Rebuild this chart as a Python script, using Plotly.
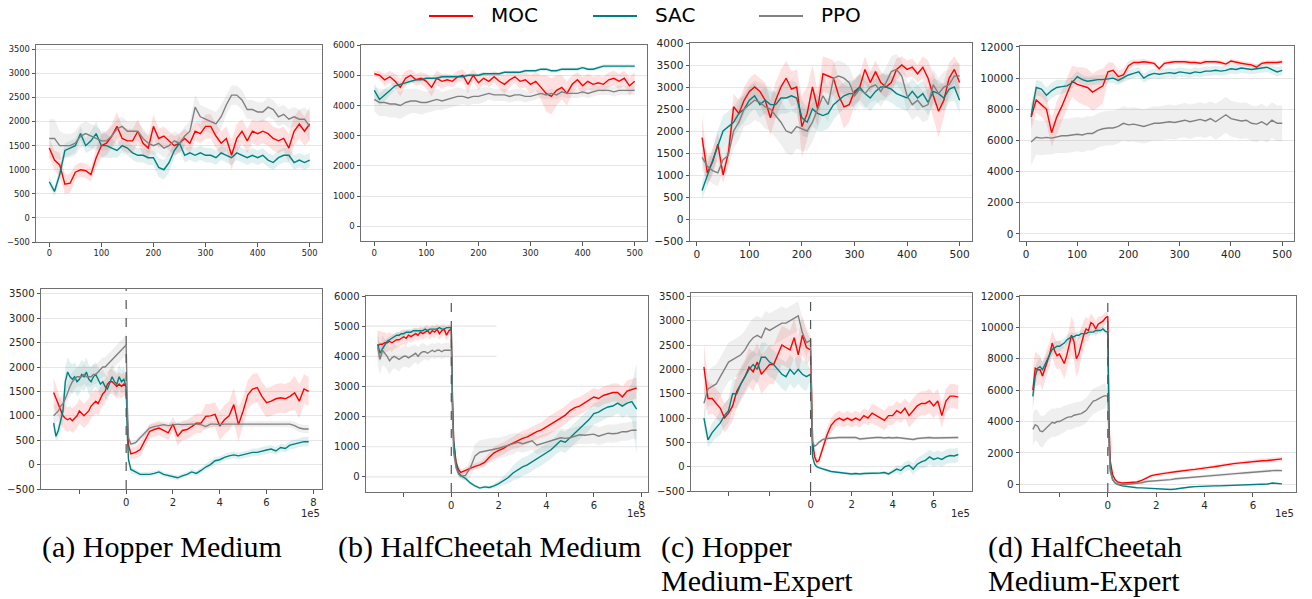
import plotly.graph_objects as go

W, H = 1312, 599


def px(v):
    return v / W


def py(v):
    return 1 - v / H


SERIES = ["MOC", "SAC", "PPO"]
COLORS = {"MOC": "#ff0000", "SAC": "#008080", "PPO": "#808080"}
FILLS = {"MOC": "rgba(255,0,0,0.12)", "SAC": "rgba(0,128,128,0.12)", "PPO": "rgba(128,128,128,0.13)"}

# ---------------- top row (online fine-tuning curves, x = epochs) ----------------
TOP_X_AB = list(range(0, 501, 10))
TOP_X_CD = list(range(10, 501, 10))

A_TOP_MOC = [1450, 1200, 1100, 700, 720, 950, 1000, 980, 900, 1250,
             1500, 1550, 1700, 1900, 1650, 1600, 1600, 1800, 1550, 1450,
             1900, 1650, 1700, 1600, 1500, 1550, 1650, 1550, 1800, 1750,
             1900, 1900, 1700, 1550, 1650, 1300, 1650, 1800, 1600, 1800,
             1750, 1800, 1750, 1650, 1600, 1650, 1450, 1800, 1950, 1800,
             1950]
A_TOP_MOC_SD = [200, 200, 250, 200, 200, 150, 150, 150, 150, 200,
                250, 250, 250, 300, 250, 250, 250, 250, 250, 250,
                250, 200, 200, 200, 200, 200, 200, 200, 200, 200,
                250, 250, 250, 250, 250, 300, 300, 250, 250, 250,
                250, 250, 250, 250, 250, 250, 300, 300, 300, 300,
                350]
A_TOP_SAC = [750, 550, 900, 1400, 1450, 1500, 1750, 1500, 1600, 1750,
             1500, 1500, 1450, 1400, 1500, 1450, 1350, 1300, 1300, 1250,
             1250, 1050, 1000, 1150, 1400, 1550, 1300, 1350, 1300, 1350,
             1300, 1300, 1250, 1350, 1300, 1250, 1350, 1300, 1250, 1300,
             1250, 1300, 1200, 1150, 1250, 1300, 1300, 1150, 1200, 1150,
             1200]
A_TOP_SAC_SD = [100, 100, 150, 150, 150, 150, 150, 150, 200, 250,
                250, 250, 200, 150, 150, 150, 150, 150, 150, 150,
                150, 200, 200, 200, 150, 150, 150, 150, 150, 150,
                150, 150, 150, 150, 150, 150, 150, 150, 150, 150,
                150, 150, 150, 150, 150, 150, 150, 150, 150, 150,
                150]
A_TOP_PPO = [1650, 1650, 1500, 1500, 1500, 1550, 1700, 1750, 1700, 1650,
             1600, 1600, 1700, 1850, 1900, 1800, 1800, 1800, 1650, 1550,
             1500, 1550, 1450, 1500, 1600, 1550, 1700, 1800, 2300, 2100,
             2050, 2000, 1950, 2100, 2350, 2550, 2550, 2450, 2250, 2250,
             2200, 2200, 2300, 2250, 2100, 2150, 2050, 2100, 2050, 2050,
             1900]
A_TOP_PPO_SD = [400, 400, 300, 250, 250, 250, 250, 250, 250, 250,
                200, 200, 200, 200, 200, 200, 200, 200, 200, 200,
                200, 200, 200, 200, 200, 200, 200, 200, 250, 250,
                250, 250, 250, 250, 200, 200, 200, 200, 200, 200,
                200, 200, 200, 200, 200, 200, 200, 200, 200, 250,
                300]

B_TOP_MOC = [5050, 5000, 4850, 4950, 4800, 4600, 4900, 5000, 4850, 4900,
             4800, 4600, 4900, 4800, 4850, 4800, 4950, 5000, 4700, 5000,
             4750, 4900, 4800, 4950, 4800, 4700, 4850, 4950, 4800, 4850,
             4700, 4800, 4600, 4400, 4300, 4500, 4600, 4400, 4700, 4850,
             4650, 4800, 4700, 4750, 4700, 4850, 4900, 4800, 4900, 4650,
             4800]
B_TOP_MOC_SD = [100, 150, 200, 200, 250, 300, 250, 200, 200, 200,
                250, 300, 250, 250, 200, 200, 200, 200, 300, 200,
                250, 200, 200, 200, 250, 300, 250, 200, 250, 250,
                300, 300, 400, 600, 600, 500, 400, 400, 300, 250,
                300, 250, 250, 250, 250, 250, 250, 250, 250, 300,
                300]
B_TOP_SAC = [4500, 4200, 4350, 4500, 4650, 4700, 4750, 4800, 4850, 4850,
             4900, 4900, 4900, 4950, 4950, 4950, 4950, 4950, 5000, 5000,
             5000, 5050, 5050, 5050, 5050, 5100, 5100, 5100, 5100, 5150,
             5150, 5150, 5200, 5200, 5150, 5150, 5200, 5200, 5200, 5200,
             5250, 5200, 5200, 5250, 5300, 5300, 5300, 5300, 5300, 5300,
             5300]
B_TOP_SAC_SD = [250, 200, 200, 150, 150, 100, 100, 80, 80, 80,
                60, 60, 60, 60, 60, 60, 60, 60, 60, 60,
                60, 60, 60, 60, 60, 60, 60, 60, 60, 60,
                60, 60, 60, 60, 60, 60, 60, 60, 60, 60,
                60, 60, 60, 60, 60, 60, 60, 60, 60, 60,
                60]
B_TOP_PPO = [4200, 4100, 4100, 4050, 4050, 4000, 4100, 4150, 4150, 4100,
             4100, 4150, 4200, 4150, 4200, 4250, 4300, 4300, 4250, 4300,
             4300, 4350, 4400, 4350, 4350, 4350, 4300, 4350, 4350, 4300,
             4300, 4350, 4400, 4350, 4400, 4350, 4450, 4400, 4400, 4400,
             4450, 4400, 4450, 4500, 4500, 4500, 4450, 4500, 4500, 4500,
             4500]
B_TOP_PPO_SD = [400, 450, 450, 450, 450, 450, 450, 400, 400, 400,
                350, 350, 350, 300, 300, 300, 300, 250, 250, 250,
                250, 250, 200, 200, 200, 200, 200, 200, 200, 200,
                150, 150, 150, 150, 150, 150, 150, 150, 150, 150,
                150, 150, 150, 150, 150, 150, 150, 150, 150, 150,
                150]

C_TOP_MOC = [1850, 1050, 1300, 1700, 1000, 1500, 2550, 2400, 2700, 2900,
             3000, 2900, 2700, 2300, 2700, 3000, 3200, 2950, 3000, 2100,
             2400, 3000, 2500, 3300, 3250, 3200, 2800, 2550, 2600, 2900,
             3000, 3400, 3100, 3350, 3100, 3000, 3100, 3400, 3500, 3400,
             3450, 3300, 3450, 3200, 2800, 2450, 2700, 3200, 3400, 3100]
C_TOP_MOC_SD = [500, 300, 300, 300, 200, 250, 300, 300, 300, 300,
                300, 300, 400, 400, 400, 400, 400, 400, 400, 700,
                600, 500, 400, 400, 400, 400, 400, 500, 400, 300,
                300, 300, 250, 250, 250, 250, 250, 250, 200, 200,
                200, 200, 250, 400, 500, 600, 400, 350, 300, 400]
C_TOP_SAC = [650, 1000, 1300, 1700, 2000, 2100, 2200, 2400, 2500, 2700,
             2800, 2600, 2700, 2600, 2600, 2750, 2750, 2800, 2750, 2300,
             2200, 2500, 2400, 2350, 2400, 2600, 2700, 2800, 2850, 2850,
             3000, 2850, 2750, 2900, 3000, 3000, 2950, 2850, 2800, 2750,
             2900, 2750, 2850, 2650, 2900, 2850, 2750, 2950, 3000, 2700]
C_TOP_SAC_SD = [200, 250, 250, 300, 350, 350, 350, 350, 300, 300,
                300, 300, 300, 300, 300, 350, 350, 350, 350, 400,
                350, 400, 400, 350, 350, 350, 300, 300, 300, 300,
                300, 300, 300, 300, 300, 300, 300, 300, 300, 300,
                300, 300, 300, 300, 300, 300, 300, 300, 300, 300]
C_TOP_PPO = [1400, 1200, 1100, 1050, 1350, 1450, 2000, 2200, 2500, 2600,
             2700, 2650, 2550, 2500, 2350, 2200, 2000, 1950, 2100, 2050,
             2000, 2200, 2500, 2800, 2600, 3200, 3250, 3200, 3100, 2800,
             2950, 2850, 3000, 3050, 2900, 3100, 3350, 3400, 3250, 2800,
             2600, 2700, 2550, 2600, 3050, 2850, 3000, 3050, 3250, 3250]
C_TOP_PPO_SD = [300, 300, 300, 300, 300, 300, 400, 400, 400, 450,
                450, 450, 500, 500, 500, 500, 500, 500, 500, 500,
                450, 450, 450, 400, 400, 350, 350, 350, 350, 350,
                350, 350, 350, 350, 350, 350, 350, 350, 350, 350,
                350, 350, 350, 350, 350, 350, 350, 350, 300, 300]

D_TOP_MOC = [7500, 8600, 8300, 8000, 6500, 7500, 8200, 9000, 9800, 9600,
             9500, 9400, 9100, 9300, 9500, 10400, 10500, 10100, 10200, 10800,
             11000, 11000, 11050, 11000, 10950, 10600, 10950, 11000, 11050, 11050,
             11050, 11000, 11000, 10950, 11050, 11050, 11050, 11000, 10900, 11100,
             11000, 10950, 10900, 10850, 10700, 10950, 11000, 11000, 11000, 11050]
D_TOP_MOC_SD = [800, 800, 800, 900, 900, 1000, 1000, 1000, 1000, 1100,
                1200, 1200, 1200, 1200, 1100, 600, 500, 400, 400, 300,
                200, 200, 200, 150, 150, 150, 150, 150, 150, 150,
                150, 150, 150, 150, 150, 150, 150, 150, 150, 150,
                150, 150, 150, 150, 150, 150, 150, 150, 150, 150]
D_TOP_SAC = [7600, 9400, 9300, 8900, 9200, 9400, 9450, 9500, 9700, 10100,
             9900, 9800, 9850, 9900, 9900, 9950, 10000, 9850, 10050, 10200,
             10300, 10400, 10000, 10200, 10300, 10250, 10300, 10350, 10300, 10400,
             10350, 10300, 10400, 10350, 10450, 10450, 10500, 10450, 10500, 10600,
             10550, 10650, 10600, 10550, 10600, 10650, 10700, 10550, 10400, 10500]
D_TOP_SAC_SD = [600, 500, 500, 500, 500, 500, 450, 400, 400, 350,
                300, 300, 300, 300, 300, 300, 300, 300, 300, 300,
                300, 300, 300, 300, 300, 300, 300, 300, 300, 300,
                300, 300, 300, 300, 300, 300, 300, 300, 300, 300,
                300, 300, 300, 300, 300, 300, 300, 300, 300, 300]
D_TOP_PPO = [5900, 6200, 6150, 6200, 6150, 6250, 6300, 6300, 6350, 6400,
             6350, 6450, 6450, 6650, 6750, 6800, 6800, 6900, 7100, 7000,
             7050, 6950, 6900, 7000, 7100, 7100, 7150, 7200, 7150, 7250,
             7300, 7200, 7300, 7350, 7250, 7400, 7200, 7400, 7650, 7400,
             7300, 7250, 7300, 7100, 7050, 7200, 7000, 7300, 7100, 7100]
D_TOP_PPO_SD = [1500, 1100, 1100, 1100, 1050, 1050, 1100, 1100, 1100, 1100,
                1100, 1100, 1100, 1100, 1100, 1100, 1100, 1100, 1100, 1100,
                1100, 1100, 1100, 1100, 1100, 1100, 1100, 1100, 1100, 1100,
                1100, 1100, 1100, 1100, 1100, 1100, 1150, 1150, 1150, 1150,
                1150, 1150, 1150, 1150, 1150, 1150, 1150, 1150, 1150, 1150]

# ---------------- bottom row (offline phase x<0, online x>=0, units of 1e5 steps) --------
PRE_X_ABD = [round(-3.1 + 0.1 * i, 2) for i in range(31)]
PRE_X_C = [round(-5.2 + 0.2 * i, 2) for i in range(26)]
POST_X_AB = [0, 0.05, 0.1, 0.2, 0.3, 0.4] + [round(0.6 + 0.2 * i, 2) for i in range(37)]
POST_X_CD = [0, 0.05, 0.1, 0.2, 0.3, 0.4] + [round(0.6 + 0.2 * i, 2) for i in range(34)]

# (a) Hopper Medium
A_PRE_MOC = [1480, 1350, 1250, 1100, 1000, 950, 920, 950, 900, 950,
             1000, 1100, 1050, 1000, 1050, 1100, 1200, 1250, 1300, 1250,
             1370, 1450, 1500, 1650, 1700, 1700, 1650, 1600, 1650, 1600, 1650]
A_PRE_MOC_SD = [300, 280, 250, 250, 250, 250, 250, 250, 250, 250,
                250, 250, 250, 250, 250, 250, 250, 250, 250, 250,
                250, 250, 250, 250, 250, 250, 250, 250, 250, 250, 250]
A_PRE_SAC = [850, 580, 700, 900, 1100, 1700, 1900, 1800, 1750, 1800,
             1700, 1750, 1850, 1800, 1900, 1750, 1700, 1800, 1850, 1750,
             1650, 1700, 1600, 1550, 1700, 1800, 1700, 1650, 1800, 1700, 1750]
A_PRE_SAC_SD = [150, 100, 150, 200, 250, 300, 300, 300, 300, 300,
                300, 300, 300, 300, 300, 300, 300, 250, 250, 250,
                250, 250, 250, 250, 250, 250, 250, 250, 250, 250, 250]
A_PRE_PPO = [1000, 1050, 1100, 1200, 1250, 1350, 1500, 1600, 1700, 1750,
             1800, 1800, 1800, 1850, 1800, 1800, 1800, 1850, 1850, 1900,
             1950, 2000, 2000, 2050, 2100, 2150, 2200, 2250, 2300, 2350, 2400]
A_PRE_PPO_SD = [200, 200, 200, 200, 200, 200, 200, 200, 200, 200,
                200, 200, 200, 200, 200, 200, 200, 200, 200, 200,
                200, 200, 200, 200, 200, 200, 200, 200, 200, 200, 200]
A_POST_MOC = [1600, 900, 400, 220, 230, 250, 310, 500, 680, 720,
              750, 700, 650, 830, 580, 700, 720, 780, 850, 850,
              990, 1000, 1030, 790, 920, 1000, 1230, 820, 1100, 1430,
              1550, 1580, 1400, 1270, 1300, 1350, 1370, 1350, 1400, 1470,
              1300, 1550, 1500]
A_POST_MOC_SD = [200, 200, 150, 120, 120, 120, 150, 150, 150, 150,
                 150, 150, 150, 150, 200, 200, 200, 200, 200, 200,
                 250, 250, 250, 300, 300, 300, 350, 350, 300, 300,
                 300, 300, 300, 300, 300, 300, 300, 300, 300, 350,
                 350, 300, 300]
A_POST_SAC = [1600, 600, 100, -100, -130, -150, -200, -200, -200, -180,
              -150, -200, -220, -250, -270, -230, -200, -150, -180, -120,
              -50, 0, 80, 100, 150, 180, 200, 180, 200, 220,
              250, 250, 280, 300, 320, 280, 350, 330, 400, 420,
              450, 470, 470]
A_POST_SAC_SD = [250, 200, 100, 80, 60, 60, 50, 50, 50, 50,
                 50, 50, 50, 50, 50, 50, 50, 60, 60, 60,
                 60, 70, 70, 70, 70, 70, 70, 70, 70, 70,
                 80, 80, 80, 80, 80, 80, 80, 80, 90, 90,
                 90, 100, 100]
A_POST_PPO = [2450, 1200, 550, 420, 430, 450, 550, 650, 750, 780,
              800, 820, 800, 820, 830, 820, 830, 830, 830, 820,
              780, 830, 830, 820, 830, 830, 830, 830, 830, 830,
              830, 830, 830, 830, 830, 830, 830, 830, 830, 800,
              750, 730, 730]
A_POST_PPO_SD = [250, 200, 80, 60, 60, 60, 60, 60, 60, 60,
                 60, 60, 60, 60, 60, 60, 60, 60, 60, 60,
                 60, 60, 60, 60, 60, 60, 60, 60, 60, 60,
                 60, 60, 60, 60, 60, 60, 60, 60, 70, 80,
                 80, 80, 80]

# (b) HalfCheetah Medium
B_PRE_MOC = [4350, 4400, 4400, 4450, 4450, 4500, 4450, 4500, 4550, 4550,
             4600, 4650, 4600, 4700, 4650, 4700, 4750, 4700, 4800, 4750,
             4800, 4850, 4750, 4850, 4800, 4900, 4750, 4850, 4900, 4700, 4850]
B_PRE_MOC_SD = [500, 450, 400, 350, 300, 300, 300, 250, 250, 250,
                250, 250, 250, 200, 200, 200, 200, 200, 200, 200,
                200, 200, 200, 200, 200, 200, 200, 200, 200, 200, 200]
B_PRE_SAC = [4400, 4100, 4250, 4400, 4500, 4550, 4600, 4650, 4700, 4700,
             4750, 4750, 4800, 4800, 4800, 4850, 4850, 4850, 4850, 4850,
             4900, 4850, 4900, 4900, 4900, 4900, 4950, 4900, 4900, 4950, 4950]
B_PRE_SAC_SD = [300, 300, 200, 150, 100, 100, 100, 100, 100, 100,
                100, 100, 100, 100, 100, 100, 100, 100, 100, 100,
                100, 100, 100, 100, 100, 100, 100, 100, 100, 100, 100]
B_PRE_PPO = [4300, 3900, 4200, 4100, 4000, 3850, 3950, 4000, 3950, 3900,
             3950, 4000, 4000, 3950, 4000, 4050, 4100, 4000, 4100, 4150,
             4150, 4100, 4150, 4200, 4150, 4200, 4200, 4150, 4200, 4200, 4200]
B_PRE_PPO_SD = [600, 500, 500, 450, 450, 450, 400, 400, 400, 400,
                350, 350, 350, 350, 350, 300, 300, 300, 300, 300,
                250, 250, 250, 250, 250, 250, 250, 250, 250, 250, 250]
B_POST_MOC = [4900, 2600, 1200, 500, 250, 150, 220, 300, 350, 400,
              480, 650, 800, 880, 950, 1050, 1130, 1200, 1280, 1330,
              1420, 1500, 1560, 1650, 1750, 1850, 1950, 2050, 2200, 2300,
              2350, 2450, 2550, 2650, 2600, 2700, 2750, 2800, 2800, 2650,
              2850, 2900, 2950]
B_POST_MOC_SD = [100, 100, 100, 100, 100, 100, 100, 100, 100, 100,
                 150, 150, 200, 200, 200, 200, 200, 250, 250, 250,
                 250, 250, 250, 300, 300, 300, 300, 300, 300, 300,
                 300, 300, 300, 300, 300, 300, 300, 300, 300, 350,
                 350, 350, 350]
B_POST_SAC = [4950, 2500, 1200, 400, 150, 50, -50, -200, -300, -370,
              -330, -350, -300, -220, -130, -20, 130, 230, 330, 400,
              500, 600, 680, 780, 900, 1050, 1200, 1150, 1300, 1450,
              1600, 1750, 1900, 2100, 2150, 2250, 2320, 2350, 2450, 2350,
              2450, 2500, 2250]
B_POST_SAC_SD = [100, 100, 100, 100, 100, 100, 80, 60, 50, 50,
                 50, 60, 80, 100, 150, 200, 250, 300, 300, 300,
                 300, 300, 300, 300, 300, 300, 350, 350, 350, 350,
                 350, 350, 350, 350, 350, 350, 350, 350, 350, 400,
                 400, 600, 1500]
B_POST_PPO = [4200, 2000, 800, 300, 100, 20, 50, 300, 700, 820,
              850, 870, 900, 950, 1000, 1050, 1100, 1150, 1100, 1150,
              1200, 1050, 1100, 1150, 1200, 1250, 1300, 1280, 1300, 1350,
              1400, 1380, 1400, 1420, 1350, 1400, 1450, 1430, 1450, 1500,
              1500, 1550, 1550]
B_POST_PPO_SD = [100, 100, 100, 100, 100, 100, 150, 300, 400, 400,
                 400, 400, 400, 350, 350, 350, 350, 300, 300, 300,
                 300, 300, 300, 300, 300, 300, 300, 300, 300, 300,
                 300, 300, 300, 300, 300, 300, 300, 300, 300, 300,
                 300, 300, 300]

# (c) Hopper Medium-Expert
C_PRE_MOC = [2050, 1400, 1400, 1300, 1200, 1000, 1100, 1250, 1550, 1700,
             1850, 2050, 1950, 2150, 1900, 2000, 2100, 2100, 2300, 2500,
             2450, 2400, 2650, 2300, 2700, 2450]
C_PRE_MOC_SD = [500, 350, 300, 300, 300, 300, 300, 300, 350, 350,
                350, 400, 400, 400, 400, 400, 400, 400, 400, 400,
                400, 400, 400, 400, 400, 350]
C_PRE_SAC = [1000, 550, 700, 800, 900, 1050, 1150, 1500, 1500, 1700,
             1850, 2000, 2100, 2000, 2250, 2250, 2150, 2100, 2000, 1900,
             1850, 2000, 1900, 2000, 1900, 1850]
C_PRE_SAC_SD = [200, 150, 200, 200, 250, 250, 250, 300, 300, 300,
                300, 300, 300, 300, 300, 300, 300, 300, 300, 300,
                300, 300, 300, 300, 300, 300]
C_PRE_PPO = [1300, 1600, 1650, 1700, 1850, 2000, 2150, 2200, 2250, 2300,
             2400, 2550, 2650, 2700, 2650, 2850, 2800, 2850, 2900, 2950,
             2950, 3000, 3050, 3100, 2750, 2550]
C_PRE_PPO_SD = [300, 350, 400, 400, 400, 400, 400, 400, 400, 400,
                400, 400, 400, 400, 400, 350, 350, 350, 350, 350,
                300, 300, 300, 300, 300, 300]
C_POST_MOC = [2400, 1200, 500, 200, 100, 120, 400, 650, 850, 950,
              1000, 950, 1000, 950, 1000, 950, 1050, 1000, 1100, 1050,
              1000, 950, 1050, 1050, 1150, 1100, 1200, 1050, 1150, 1250,
              1300, 1300, 1350, 1250, 1350, 1050, 1350, 1450, 1450, 1430]
C_POST_MOC_SD = [200, 150, 100, 100, 80, 80, 100, 150, 150, 150,
                 150, 150, 150, 150, 150, 150, 150, 150, 200, 200,
                 200, 200, 200, 200, 200, 200, 200, 250, 250, 250,
                 250, 250, 250, 250, 250, 250, 250, 250, 250, 250]
C_POST_SAC = [1900, 700, 200, 50, 0, -20, -50, -80, -100, -110,
              -120, -130, -140, -150, -140, -150, -140, -140, -130, -140,
              -130, -120, -150, -100, -50, -80, 0, 30, -50, 50,
              100, 130, 200, 150, 180, 150, 200, 230, 220, 250]
C_POST_SAC_SD = [100, 100, 60, 40, 30, 30, 30, 30, 30, 30,
                 30, 30, 30, 30, 30, 30, 30, 30, 30, 30,
                 30, 30, 40, 50, 80, 100, 100, 100, 120, 130,
                 130, 150, 150, 150, 150, 150, 150, 150, 150, 150]
C_POST_PPO = [2600, 1200, 500, 420, 450, 500, 560, 580, 590, 600,
              600, 600, 600, 590, 600, 570, 580, 590, 600, 600,
              600, 590, 600, 590, 600, 590, 590, 580, 560, 580,
              590, 590, 600, 590, 590, 600, 590, 600, 600, 600]
C_POST_PPO_SD = [100, 100, 50, 40, 30, 30, 30, 30, 30, 30,
                 30, 30, 30, 30, 30, 30, 30, 30, 30, 30,
                 30, 30, 30, 30, 30, 30, 30, 30, 30, 30,
                 30, 30, 30, 30, 30, 30, 30, 30, 30, 30]

# (d) HalfCheetah Medium-Expert
D_PRE_MOC = [6000, 7400, 7300, 7300, 6900, 7400, 7900, 8300, 9000, 8500,
             8200, 8300, 8000, 7700, 8200, 8900, 9500, 9100, 8000, 8300,
             9000, 9500, 9900, 9800, 10300, 10200, 9900, 10200, 10300, 10400, 10600]
D_PRE_MOC_SD = [1300, 1100, 1000, 900, 900, 900, 800, 800, 800, 900,
                900, 900, 900, 1000, 1000, 1100, 1200, 1200, 1200, 1100,
                1000, 900, 800, 700, 600, 500, 500, 500, 400, 400, 400]
D_PRE_SAC = [5600, 6900, 7400, 7500, 7300, 7600, 8000, 8300, 8600, 8700,
             8800, 8800, 8900, 9000, 9200, 9300, 9400, 9400, 9500, 9500,
             9600, 9600, 9600, 9700, 9700, 9700, 9800, 9800, 9800, 9900, 9750]
D_PRE_SAC_SD = [700, 600, 500, 500, 500, 450, 400, 400, 400, 400,
                350, 350, 300, 300, 300, 300, 300, 250, 250, 250,
                250, 250, 250, 250, 200, 200, 200, 200, 200, 200, 200]
D_PRE_PPO = [3500, 3800, 3700, 3400, 3350, 3500, 3700, 3800, 3950, 3900,
             4000, 4000, 4100, 4150, 4250, 4300, 4300, 4400, 4450, 4450,
             4500, 4600, 4700, 4900, 5100, 5300, 5350, 5450, 5500, 5600, 5650]
D_PRE_PPO_SD = [1000, 1000, 1000, 1000, 1000, 900, 900, 900, 900, 900,
                900, 850, 850, 850, 800, 800, 800, 800, 800, 800,
                800, 800, 800, 800, 800, 800, 800, 800, 800, 800, 800]
D_POST_MOC = [10700, 4000, 1500, 600, 300, 150, 80, 100, 120, 150,
              250, 400, 550, 620, 680, 720, 760, 800, 850, 880,
              920, 950, 980, 1020, 1080, 1120, 1180, 1230, 1280, 1320,
              1350, 1380, 1430, 1480, 1490, 1500, 1520, 1550, 1580, 1620]
D_POST_MOC_SD = [300, 200, 100, 80, 80, 80, 80, 80, 80, 80,
                 80, 100, 100, 100, 100, 100, 100, 100, 100, 100,
                 100, 120, 120, 120, 120, 120, 120, 120, 120, 120,
                 120, 120, 120, 120, 140, 140, 140, 150, 150, 150]
D_POST_SAC = [9700, 3000, 1000, 300, 100, 0, -100, -150, -200, -220,
              -230, -250, -260, -280, -300, -320, -330, -300, -250, -200,
              -170, -150, -130, -120, -110, -100, -100, -90, -80, -60,
              -50, -30, -20, -10, 0, 0, 20, 80, 60, 30]
D_POST_SAC_SD = [200, 100, 60, 50, 50, 50, 50, 50, 50, 50,
                 50, 50, 50, 50, 50, 50, 50, 50, 50, 50,
                 50, 50, 50, 50, 50, 50, 50, 50, 50, 50,
                 50, 50, 50, 50, 50, 50, 50, 50, 50, 50]
D_POST_PPO = [5600, 2500, 800, 300, 100, 20, -20, 0, 20, 50,
              100, 180, 200, 200, 250, 280, 300, 350, 380, 400,
              420, 450, 480, 500, 520, 550, 580, 620, 650, 680,
              700, 720, 750, 780, 800, 820, 850, 870, 880, 870]
D_POST_PPO_SD = [200, 150, 80, 80, 80, 80, 80, 80, 80, 80,
                 100, 100, 100, 100, 100, 100, 100, 100, 100, 100,
                 100, 100, 100, 100, 100, 100, 100, 100, 100, 100,
                 100, 100, 100, 100, 100, 100, 100, 100, 100, 100]

TOP_DATA = {
    1: (TOP_X_AB, {"MOC": (A_TOP_MOC, A_TOP_MOC_SD), "SAC": (A_TOP_SAC, A_TOP_SAC_SD), "PPO": (A_TOP_PPO, A_TOP_PPO_SD)}),
    2: (TOP_X_AB, {"MOC": (B_TOP_MOC, B_TOP_MOC_SD), "SAC": (B_TOP_SAC, B_TOP_SAC_SD), "PPO": (B_TOP_PPO, B_TOP_PPO_SD)}),
    3: (TOP_X_CD, {"MOC": (C_TOP_MOC, C_TOP_MOC_SD), "SAC": (C_TOP_SAC, C_TOP_SAC_SD), "PPO": (C_TOP_PPO, C_TOP_PPO_SD)}),
    4: (TOP_X_CD, {"MOC": (D_TOP_MOC, D_TOP_MOC_SD), "SAC": (D_TOP_SAC, D_TOP_SAC_SD), "PPO": (D_TOP_PPO, D_TOP_PPO_SD)}),
}
BOT_DATA = {
    5: (PRE_X_ABD, POST_X_AB, {
        "MOC": (A_PRE_MOC, A_PRE_MOC_SD, A_POST_MOC, A_POST_MOC_SD),
        "SAC": (A_PRE_SAC, A_PRE_SAC_SD, A_POST_SAC, A_POST_SAC_SD),
        "PPO": (A_PRE_PPO, A_PRE_PPO_SD, A_POST_PPO, A_POST_PPO_SD)}),
    6: (PRE_X_ABD, POST_X_AB, {
        "MOC": (B_PRE_MOC, B_PRE_MOC_SD, B_POST_MOC, B_POST_MOC_SD),
        "SAC": (B_PRE_SAC, B_PRE_SAC_SD, B_POST_SAC, B_POST_SAC_SD),
        "PPO": (B_PRE_PPO, B_PRE_PPO_SD, B_POST_PPO, B_POST_PPO_SD)}),
    7: (PRE_X_C, POST_X_CD, {
        "MOC": (C_PRE_MOC, C_PRE_MOC_SD, C_POST_MOC, C_POST_MOC_SD),
        "SAC": (C_PRE_SAC, C_PRE_SAC_SD, C_POST_SAC, C_POST_SAC_SD),
        "PPO": (C_PRE_PPO, C_PRE_PPO_SD, C_POST_PPO, C_POST_PPO_SD)}),
    8: (PRE_X_ABD, POST_X_CD, {
        "MOC": (D_PRE_MOC, D_PRE_MOC_SD, D_POST_MOC, D_POST_MOC_SD),
        "SAC": (D_PRE_SAC, D_PRE_SAC_SD, D_POST_SAC, D_POST_SAC_SD),
        "PPO": (D_PRE_PPO, D_PRE_PPO_SD, D_POST_PPO, D_POST_PPO_SD)}),
}

CAPTIONS = [("(a) Hopper Medium", None, 40), ("(b) HalfCheetah Medium", None, 336),
            ("(c) Hopper", "Medium-Expert", 659), ("(d) HalfCheetah", "Medium-Expert", 986)]

# panel geometry (pixels) and axes
PANELS = {
    1: dict(xd=(36, 322), yd=(45, 242), xr=[-25.5, 523.6], yr=[-500, 3590], y0=-500, dy=500, fs=8.3),
    2: dict(xd=(361, 647), yd=(45, 241), xr=[-25.5, 523.6], yr=[-480, 6000], y0=0, dy=1000, fs=8.6),
    3: dict(xd=(690, 972), yd=(43, 241), xr=[-13, 523.6], yr=[-500, 4000], y0=-500, dy=500, fs=10.6),
    4: dict(xd=(1020, 1294), yd=(46, 241), xr=[-11.7, 523], yr=[-450, 12060], y0=0, dy=2000, fs=10.4),
    5: dict(xd=(41, 322), yd=(289, 489), xr=[-3.64, 8.37], yr=[-500, 3600], y0=-500, dy=500, fs=10,
            tv=[-2, 0, 2, 4, 6, 8]),
    6: dict(xd=(366, 648), yd=(296, 492), xr=[-3.59, 8.28], yr=[-500, 6000], y0=0, dy=1000, fs=10,
            tv=[-2, 0, 2, 4, 6, 8]),
    7: dict(xd=(691, 972), yd=(293, 491), xr=[-5.83, 7.87], yr=[-500, 3570], y0=-500, dy=500, fs=10,
            tv=[-4, -2, 0, 2, 4, 6]),
    8: dict(xd=(1020, 1296), yd=(296, 492), xr=[-3.63, 7.78], yr=[-490, 12000], y0=0, dy=2000, fs=10.3,
            tv=[-2, 0, 2, 4, 6]),
}

fig = go.Figure()


def add_series(i, x, mean, sd, name):
    assert len(x) == len(mean) == len(sd), (i, name, len(x), len(mean), len(sd))
    xa = "x" if i == 1 else f"x{i}"
    ya = "y" if i == 1 else f"y{i}"
    hi = [m + s for m, s in zip(mean, sd)]
    lo = [m - s for m, s in zip(mean, sd)]
    fig.add_trace(go.Scatter(x=list(x) + list(x)[::-1], y=hi + lo[::-1], fill="toself",
                             fillcolor=FILLS[name], line=dict(width=0), mode="lines",
                             hoverinfo="skip", showlegend=False, xaxis=xa, yaxis=ya))
    return xa, ya


lines = []
for i, (x, d) in TOP_DATA.items():
    for name in SERIES:
        mean, sd = d[name]
        xa, ya = add_series(i, x, mean, sd, name)
        lines.append((x, mean, name, xa, ya))
for i, (prex, postx, d) in BOT_DATA.items():
    for name in SERIES:
        pre, pre_sd, post, post_sd = d[name]
        x = list(prex) + list(postx)
        xa, ya = add_series(i, x, pre + post, pre_sd + post_sd, name)
        lines.append((x, pre + post, name, xa, ya))
for x, mean, name, xa, ya in lines:
    fig.add_trace(go.Scatter(x=x, y=mean, mode="lines", name=name,
                             line=dict(color=COLORS[name], width=1.4),
                             showlegend=False, xaxis=xa, yaxis=ya))

layout = dict(width=W, height=H, margin=dict(l=0, r=0, t=0, b=0, autoexpand=False),
              paper_bgcolor="white", plot_bgcolor="white",
              font=dict(family="DejaVu Sans", color="#262626"), showlegend=False)
shapes = []
annotations = []
for i, p in PANELS.items():
    xk = "xaxis" if i == 1 else f"xaxis{i}"
    yk = "yaxis" if i == 1 else f"yaxis{i}"
    ya = "y" if i == 1 else f"y{i}"
    xa = "x" if i == 1 else f"x{i}"
    xax = dict(domain=[px(p["xd"][0]), px(p["xd"][1])], range=p["xr"], anchor=ya,
               showgrid=False, zeroline=False, showline=True, mirror=True,
               linecolor="#707070", linewidth=1, ticks="outside", ticklen=3.5,
               tickcolor="#555", tickfont=dict(size=p["fs"], family="DejaVu Sans", color="#262626"))
    if i <= 4:
        xax.update(tickmode="array", tickvals=[0, 100, 200, 300, 400, 500])
    else:
        xax.update(tickmode="array", tickvals=p["tv"],
                   ticktext=["" if v < 0 else str(v) for v in p["tv"]])
    yax = dict(domain=[py(p["yd"][1]), py(p["yd"][0])], range=p["yr"], anchor=xa,
               tick0=p["y0"], dtick=p["dy"], tickformat="d",
               showgrid=(i != 6), gridcolor="#e6e6e6", gridwidth=1.2,
               zeroline=False, showline=True, mirror=True, linecolor="#707070", linewidth=1,
               ticks="outside", ticklen=3.5, tickcolor="#555",
               tickfont=dict(size=p["fs"], family="DejaVu Sans", color="#262626"))
    layout[xk] = xax
    layout[yk] = yax
    if i >= 5:
        shapes.append(dict(type="line", xref=xa, yref=f"{ya} domain", x0=0, x1=0, y0=0, y1=1,
                           line=dict(color="#555", width=1.2, dash="dash"), layer="above"))
        annotations.append(dict(text="1e5", x=px(p["xd"][1]), y=py(513), xref="paper", yref="paper",
                                xanchor="right", yanchor="middle", showarrow=False,
                                font=dict(size=10, family="DejaVu Sans", color="#262626")))

# panel (b) bottom: grid lines as drawn in the original
for gy in [0, 1000, 2000, 3000]:
    shapes.append(dict(type="line", xref="x6 domain", yref="y6", x0=0, x1=1, y0=gy, y1=gy,
                       line=dict(color="#e6e6e6", width=1.2), layer="below"))
for gy in [4000, 5000]:
    shapes.append(dict(type="line", xref="x6", yref="y6", x0=-3.59, x1=1.9, y0=gy, y1=gy,
                       line=dict(color="#e6e6e6", width=1.2), layer="below"))

# legend (drawn at top centre)
for name, (lx0, tx) in zip(SERIES, [(429, 489), (593, 653), (759, 819)]):
    shapes.append(dict(type="line", xref="paper", yref="paper", x0=px(lx0), x1=px(lx0 + 44),
                       y0=py(16), y1=py(16), line=dict(color=COLORS[name], width=2.2)))
    annotations.append(dict(text=name, x=px(tx), y=py(15), xref="paper", yref="paper",
                            xanchor="left", yanchor="middle", showarrow=False,
                            font=dict(size=20, family="DejaVu Sans", color="black")))

for l1, l2, x0 in CAPTIONS:
    annotations.append(dict(text=l1, x=px(x0), y=py(547), xref="paper", yref="paper",
                            xanchor="left", yanchor="middle", showarrow=False,
                            font=dict(size=30, family="Liberation Serif", color="black")))
    if l2:
        annotations.append(dict(text=l2, x=px(x0), y=py(580.5), xref="paper", yref="paper",
                                xanchor="left", yanchor="middle", showarrow=False,
                                font=dict(size=30, family="Liberation Serif", color="black")))

layout["shapes"] = shapes
layout["annotations"] = annotations
fig.update_layout(**layout)
fig.write_html("out.html")
